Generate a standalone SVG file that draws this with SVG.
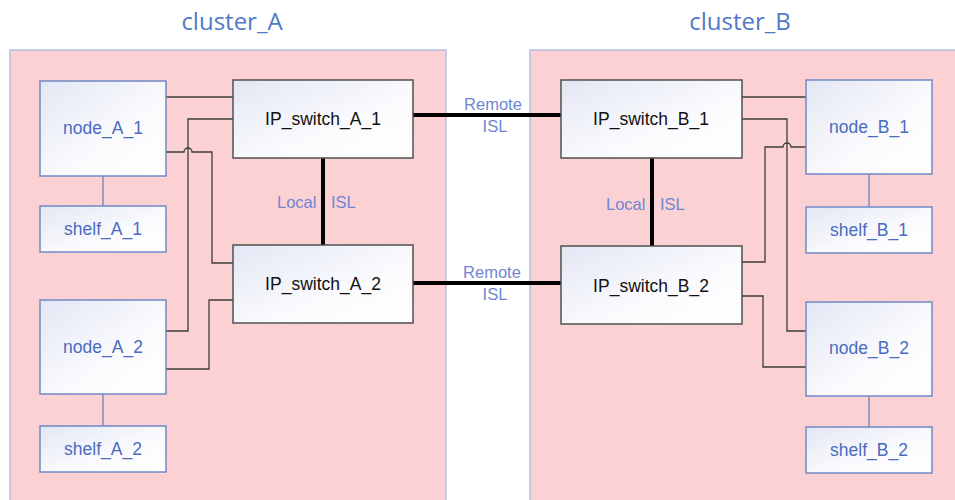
<svg xmlns="http://www.w3.org/2000/svg" width="955" height="500" viewBox="0 0 955 500">
  <defs>
    <linearGradient id="boxFill" x1="0" y1="0" x2="1" y2="1">
      <stop offset="0" stop-color="#e3e7f4"/>
      <stop offset="0.6" stop-color="#fbfbfe"/>
      <stop offset="1" stop-color="#ffffff"/>
    </linearGradient>
  </defs>
  <style>
    .cluster { fill: #fbd1d3; stroke: #b6c0e4; stroke-width: 1.5; }
    .ctitle { font-family: "Open Sans", "Liberation Sans", sans-serif; font-size: 24px; fill: #4f79c9; text-anchor: middle; }
    .node { fill: url(#boxFill); stroke: #7089c6; stroke-width: 1.5; }
    .switch { fill: url(#boxFill); stroke: #505050; stroke-width: 1.5; }
    .nlabel { font-family: "Liberation Sans", Arial, sans-serif; font-size: 17.5px; fill: #4a6cc0; text-anchor: middle; }
    .slabel { font-family: "Liberation Sans", Arial, sans-serif; font-size: 17.5px; fill: #111111; text-anchor: middle; }
    .isl { font-family: "Liberation Sans", Arial, sans-serif; font-size: 16.5px; fill: #6f86d2; }
    .wire { fill: none; stroke: #3c3c3c; stroke-width: 1.3; }
    .shelfwire { fill: none; stroke: #6d80b8; stroke-width: 1.3; }
    .islwire { fill: none; stroke: #000000; stroke-width: 4; }
  </style>

  <!-- cluster containers -->
  <g id="cluster_A">
    <rect class="cluster" x="10" y="50" width="436" height="460"/>
    <text class="ctitle" x="232" y="30">cluster_A</text>
  </g>
  <g id="cluster_B">
    <rect class="cluster" x="530" y="50" width="440" height="460"/>
    <text class="ctitle" x="740" y="30">cluster_B</text>
  </g>

  <!-- connectors -->
  <g id="connectors">
    <!-- node to shelf -->
    <path class="shelfwire" d="M103,176 V206"/>
    <path class="shelfwire" d="M103,394 V426"/>
    <path class="shelfwire" d="M869,174 V207"/>
    <path class="shelfwire" d="M869,396 V427"/>

    <!-- cluster_A cabling -->
    <path class="wire" d="M166,97 H233"/>
    <path class="wire" d="M233,119 H188 V331 H166"/>
    <path class="wire" d="M166,152 H184 a4,4 0 0 1 8,0 H212 V263 H233"/>
    <path class="wire" d="M233,300 H209 V369 H164"/>

    <!-- cluster_B cabling -->
    <path class="wire" d="M742,97 H806"/>
    <path class="wire" d="M742,119 H787 V331 H806"/>
    <path class="wire" d="M742,262 H765 V147 H783 a4,4 0 0 1 8,0 H806"/>
    <path class="wire" d="M742,296 H763 V367 H806"/>

    <!-- inter-switch links -->
    <path class="islwire" d="M323,158 V245"/>
    <path class="islwire" d="M652,158 V246"/>
    <path class="islwire" d="M413,115 H561"/>
    <path class="islwire" d="M413,283 H561"/>

    <text class="isl" x="277" y="208">Local</text>
    <text class="isl" x="331" y="208">ISL</text>
    <text class="isl" x="606" y="210">Local</text>
    <text class="isl" x="660" y="210">ISL</text>
    <text class="isl" x="493" y="110" text-anchor="middle">Remote</text>
    <text class="isl" x="495" y="132" text-anchor="middle">ISL</text>
    <text class="isl" x="492" y="278" text-anchor="middle">Remote</text>
    <text class="isl" x="495" y="300" text-anchor="middle">ISL</text>
  </g>

  <!-- cluster_A nodes -->
  <g id="node_A_1">
    <rect class="node" x="40" y="81" width="126" height="95"/>
    <text class="nlabel" x="103" y="134">node_A_1</text>
  </g>
  <g id="shelf_A_1">
    <rect class="node" x="40" y="206" width="126" height="46"/>
    <text class="nlabel" x="103" y="235">shelf_A_1</text>
  </g>
  <g id="node_A_2">
    <rect class="node" x="40" y="300" width="126" height="94"/>
    <text class="nlabel" x="103" y="353">node_A_2</text>
  </g>
  <g id="shelf_A_2">
    <rect class="node" x="40" y="426" width="126" height="46"/>
    <text class="nlabel" x="103" y="455">shelf_A_2</text>
  </g>
  <g id="IP_switch_A_1">
    <rect class="switch" x="233" y="80" width="180" height="78"/>
    <text class="slabel" x="323" y="125">IP_switch_A_1</text>
  </g>
  <g id="IP_switch_A_2">
    <rect class="switch" x="233" y="245" width="180" height="78"/>
    <text class="slabel" x="323" y="290">IP_switch_A_2</text>
  </g>

  <!-- cluster_B nodes -->
  <g id="IP_switch_B_1">
    <rect class="switch" x="561" y="80" width="181" height="78"/>
    <text class="slabel" x="651" y="125">IP_switch_B_1</text>
  </g>
  <g id="IP_switch_B_2">
    <rect class="switch" x="561" y="246" width="181" height="78"/>
    <text class="slabel" x="651" y="292">IP_switch_B_2</text>
  </g>
  <g id="node_B_1">
    <rect class="node" x="806" y="80" width="126" height="94"/>
    <text class="nlabel" x="869" y="133">node_B_1</text>
  </g>
  <g id="shelf_B_1">
    <rect class="node" x="806" y="207" width="126" height="46"/>
    <text class="nlabel" x="869" y="236">shelf_B_1</text>
  </g>
  <g id="node_B_2">
    <rect class="node" x="806" y="302" width="126" height="94"/>
    <text class="nlabel" x="869" y="354">node_B_2</text>
  </g>
  <g id="shelf_B_2">
    <rect class="node" x="806" y="427" width="126" height="46"/>
    <text class="nlabel" x="869" y="456">shelf_B_2</text>
  </g>
</svg>
